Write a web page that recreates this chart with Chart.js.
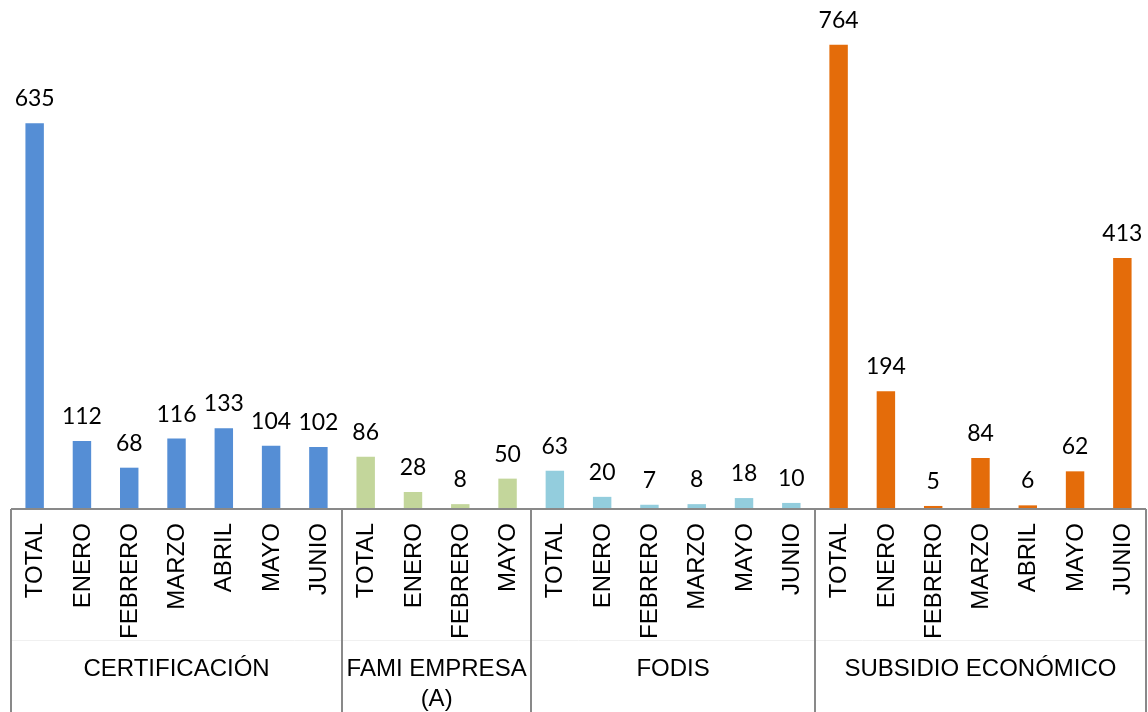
<!DOCTYPE html>
<html>
<head>
<meta charset="utf-8">
<script src="https://cdn.jsdelivr.net/npm/chart.js@4/dist/chart.umd.min.js"></script>
<style>
  html, body { margin: 0; padding: 0; background: #fff; }
  #wrap { width: 1148px; height: 712px; }
</style>
</head>
<body>
<div id="wrap"><canvas id="barChart" width="1148" height="712"></canvas></div>
<script>
// data
const groupNames = [["CERTIFICACIÓN"], ["FAMI EMPRESA", "(A)"], ["FODIS"], ["SUBSIDIO ECONÓMICO"]];
const certLabels = ["TOTAL", "ENERO", "FEBRERO", "MARZO", "ABRIL", "MAYO", "JUNIO"];
const certValues = [635, 112, 68, 116, 133, 104, 102];
const famiLabels = ["TOTAL", "ENERO", "FEBRERO", "MAYO"];
const famiValues = [86, 28, 8, 50];
const fodisLabels = ["TOTAL", "ENERO", "FEBRERO", "MARZO", "MAYO", "JUNIO"];
const fodisValues = [63, 20, 7, 8, 18, 10];
const subsLabels = ["TOTAL", "ENERO", "FEBRERO", "MARZO", "ABRIL", "MAYO", "JUNIO"];
const subsValues = [764, 194, 5, 84, 6, 62, 413];
const groupColors = ["#558ED5", "#C3D69B", "#93CDDD", "#E46C0A"];

var groupLabels = [certLabels, famiLabels, fodisLabels, subsLabels];
var groupValues = [certValues, famiValues, fodisValues, subsValues];

var labels = [], values = [], barColors = [], groupStart = [];
groupLabels.forEach(function (g, gi) {
  groupStart.push(labels.length);
  g.forEach(function (l, i) {
    labels.push(l);
    values.push(groupValues[gi][i]);
    barColors.push(groupColors[gi]);
  });
});
groupStart.push(labels.length);

var axisFont = '24px "Liberation Sans", Arial, sans-serif';
var valueFont = '23px Lato, "Open Sans", sans-serif';

var drawExtras = {
  id: "drawExtras",
  afterDraw: function (chart) {
    var ctx = chart.ctx;
    var xs = chart.scales.x;
    var area = chart.chartArea;
    var meta = chart.getDatasetMeta(0);
    var base = area.bottom;

    ctx.save();
    // value labels
    ctx.fillStyle = "#000";
    ctx.font = valueFont;
    ctx.textAlign = "center";
    ctx.textBaseline = "alphabetic";
    meta.data.forEach(function (bar, i) {
      ctx.fillText(String(values[i]), bar.x, bar.y - 17);
    });

    // group boundaries
    function edge(idx) {
      if (idx <= 0) return area.left;
      if (idx >= labels.length) return area.right;
      return (xs.getPixelForValue(idx - 1) + xs.getPixelForValue(idx)) / 2;
    }

    // faint line between levels
    ctx.strokeStyle = "#f0f0f0";
    ctx.lineWidth = 1;
    ctx.beginPath();
    ctx.moveTo(area.left, 640.5);
    ctx.lineTo(area.right, 640.5);
    ctx.stroke();

    ctx.strokeStyle = "#898989";
    ctx.lineWidth = 2;
    ctx.beginPath();
    ctx.moveTo(area.left, base);
    ctx.lineTo(area.right, base);
    groupStart.forEach(function (s) {
      var x = Math.round(edge(s));
      ctx.moveTo(x, base);
      ctx.lineTo(x, chart.height);
    });
    ctx.stroke();

    // rotated category labels
    ctx.font = axisFont;
    ctx.fillStyle = "#000";
    labels.forEach(function (l, i) {
      ctx.save();
      ctx.translate(xs.getPixelForValue(i), base + 14);
      ctx.rotate(-Math.PI / 2);
      ctx.textAlign = "right";
      ctx.textBaseline = "middle";
      ctx.fillText(l, 0, 1);
      ctx.restore();
    });

    // group labels
    ctx.textAlign = "center";
    ctx.textBaseline = "middle";
    groupNames.forEach(function (lines, gi) {
      var cx = (edge(groupStart[gi]) + edge(groupStart[gi + 1])) / 2;
      lines.forEach(function (t, li) {
        ctx.fillText(t, cx, 669 + li * 30);
      });
    });
    ctx.restore();
  }
};

new Chart("barChart", {
  type: "bar",
  data: {
    labels: labels,
    datasets: [
      {
        data: values,
        backgroundColor: barColors,
        categoryPercentage: 1,
        barPercentage: 0.39,
      },
    ],
  },
  options: {
    responsive: false,
    animation: false,
    layout: { padding: { left: 11, right: 2, top: 23, bottom: 203 } },
    plugins: { legend: { display: false }, tooltip: { enabled: false } },
    scales: {
      x: { display: false, grid: { display: false } },
      y: { display: false, min: 0, max: 800, grid: { display: false } },
    },
  },
  plugins: [drawExtras],
});
</script>
</body>
</html>
